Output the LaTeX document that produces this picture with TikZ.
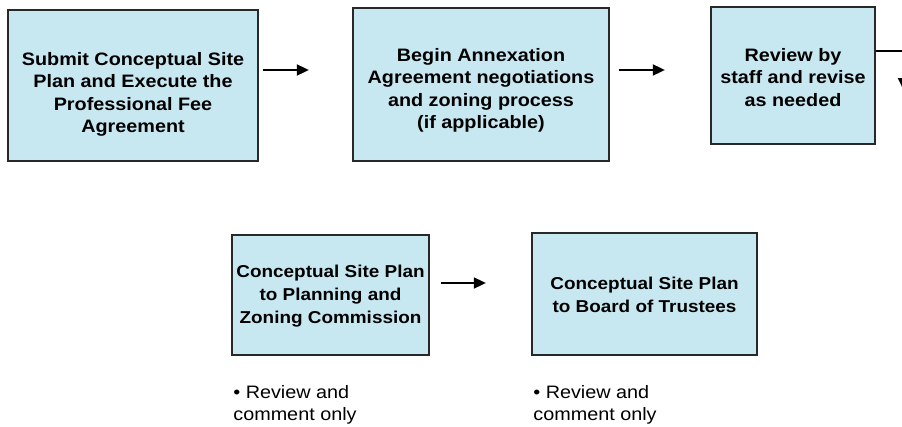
\documentclass[tikz,border=0pt]{standalone}
\usepackage{fontspec}
\setmainfont{Liberation Sans}[FakeStretch=1.1]
\usetikzlibrary{arrows.meta}

\definecolor{boxblue}{RGB}{200,232,241}
\definecolor{boxline}{RGB}{40,40,40}

\tikzset{
  stepbox/.style={draw=boxline,line width=1.7pt,fill=boxblue,inner sep=0pt},
  steptext/.style={align=center,inner sep=0pt,font=\bfseries\fontsize{18}{22.5}\selectfont},
  smalltext/.style={steptext,font=\bfseries\fontsize{17.2}{23}\selectfont},
  note/.style={align=left,inner sep=0pt,font=\fontsize{18}{22}\selectfont},
  flow/.style={line width=1.8pt,-{Triangle[length=12pt,width=11pt]}},
}

\begin{document}
\begin{tikzpicture}[x=1pt,y=-1pt]
\useasboundingbox (0,0) rectangle (902,426);
%\draw[help lines] (0,0) grid[step=50] (902,426);
% top row
\node[stepbox,minimum width=250pt,minimum height=151pt] (plan) at (133,85.5) {};
\node[stepbox,minimum width=256pt,minimum height=153pt] (annex) at (481,84.5) {};
\node[stepbox,minimum width=164pt,minimum height=137pt] (review) at (793,75.5) {};
\node[steptext] (plantext) at ([yshift=-9pt]plan.center)
  {Submit Conceptual Site\\Plan and Execute the\\Professional Fee\\Agreement};
\node[steptext] (annextext) at ([yshift=-6pt]annex.center)
  {Begin Annexation\\Agreement negotiations\\and zoning process\\(if applicable)};
\node[steptext] (reviewtext) at ([yshift=-2pt]review.center)
  {Review by\\staff and revise\\as needed};
% bottom row
\node[stepbox,minimum width=197pt,minimum height=120pt] (pzc) at (330.5,295) {};
\node[stepbox,minimum width=225pt,minimum height=122pt] (board) at (644.5,294) {};
\node[smalltext] (pzctext) at ([yshift=-1pt]pzc.center)
  {Conceptual Site Plan\\to Planning and\\Zoning Commission};
\node[smalltext] (boardtext) at ([yshift=-1pt]board.center)
  {Conceptual Site Plan\\to Board of Trustees};
%
\foreach \b in {pzc,board}
  \node[note,anchor=north west] (\b note) at ([xshift=2pt]\b.south west |- 0,385)
    {\textbullet\ Review and\\comment only};
%
\draw[flow] (plan.east |- 0,70) ++(4,0) -- ++(46,0);
\draw[flow] (annex.east |- 0,70) ++(9,0) -- ++(46,0);
\draw[flow] (review.east |- 0,51) -| (903.5,90);
\draw[flow] (pzc.east |- 0,283) ++(11,0) -- ++(45,0);
\end{tikzpicture}
\end{document}
